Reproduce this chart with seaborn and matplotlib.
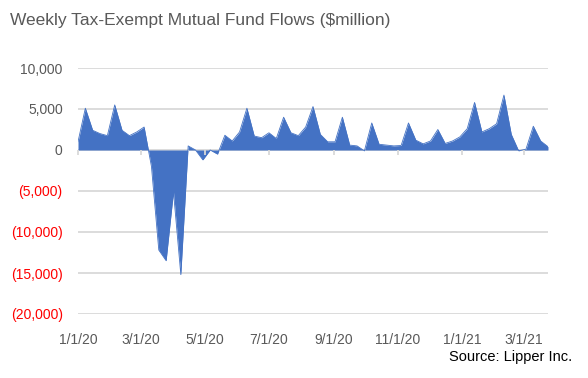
import numpy as np
import pandas as pd
import matplotlib
matplotlib.use("Agg")
import matplotlib.pyplot as plt
import seaborn as sns

# ---- data (weekly flows, $ million) ----
start_date = "2020-01-01"
flows = [1000, 5100, 2400, 2000, 1750, 5500, 2400, 1750, 2200, 2800,
         -2000, -12200, -13500, -5100, -15200, 500, 0, -1200, 0, -500,
         1800, 1100, 2200, 5100, 1700, 1500, 2100, 1400, 4000, 2100,
         1750, 2800, 5300, 1900, 1000, 1000, 4000, 600, 500, -100,
         3300, 700, 600, 500, 550, 3300, 1200, 750, 1100, 2500,
         800, 1100, 1600, 2600, 5800, 2200, 2600, 3200, 6700, 1900,
         -100, 100, 2900, 1100, 400]
tick_dates = ["2020-01-01", "2020-03-01", "2020-05-01", "2020-07-01",
              "2020-09-01", "2020-11-01", "2021-01-01", "2021-03-01"]
tick_labels = ["1/1/20", "3/1/20", "5/1/20", "7/1/20",
               "9/1/20", "11/1/20", "1/1/21", "3/1/21"]
y_ticks = [-20000, -15000, -10000, -5000, 0, 5000, 10000]
y_labels = ["(20,000)", "(15,000)", "(10,000)", "(5,000)", "0", "5,000", "10,000"]
title = "Weekly Tax-Exempt Mutual Fund Flows ($million)"
source = "Source: Lipper Inc."

dates = pd.date_range(start_date, periods=len(flows), freq="7D")
df = pd.DataFrame({"date": dates, "flow": flows})

sns.set_theme(style="white")
plt.rcParams["font.family"] = ["Liberation Sans", "DejaVu Sans"]

blue = "#4472C4"
gray = "#595959"
grid = "#D9D9D9"

fig = plt.figure(figsize=(5.88, 3.78), dpi=100)
ax = fig.add_axes([78 / 588, 1 - 314 / 378, (548 - 78) / 588, (314 - 68) / 378])

ax.fill_between(df["date"], df["flow"], 0, color=blue, linewidth=0, zorder=3)
sns.lineplot(data=df, x="date", y="flow", ax=ax, color=blue, linewidth=0.6, zorder=4)

ax.set_xlim(dates[0], dates[-1])
ax.set_ylim(-20000, 10000)
ax.set_yticks(y_ticks)
ax.set_yticklabels(y_labels)
for lab, v in zip(ax.get_yticklabels(), y_ticks):
    lab.set_color("#FF0000" if v < 0 else gray)
ax.set_xticks(pd.to_datetime(tick_dates))
ax.set_xticklabels(tick_labels, color=gray)
ax.tick_params(axis="y", length=0, pad=11, labelsize=10)
ax.tick_params(axis="x", length=0, pad=14, labelsize=10)
ax.set_xlabel("")
ax.set_ylabel("")

for v in y_ticks:
    if v != 0:
        ax.axhline(v, color=grid, linewidth=1.3, zorder=1)
for s in ax.spines.values():
    s.set_visible(False)
ax.axhline(0, color=grid, linewidth=1.3, zorder=2)

# zero axis line with tick marks pointing down
sec = ax.secondary_xaxis(2 / 3)
sec.set_alignment("bottom")
sec.set_xticks(pd.to_datetime(tick_dates))
sec.set_xticklabels([])
sec.tick_params(axis="x", direction="out", length=3.5, color=grid, width=1.3)
for k in ["top", "bottom", "left", "right"]:
    sec.spines[k].set_visible(False)
sec.set_zorder(6)

fig.text(10 / 588, 1 - 20 / 378, title, fontsize=12.5, color=gray, va="center", ha="left")
fig.text(572 / 588, 1 - 357 / 378, source, fontsize=10.5, color="black", va="center", ha="right")

fig.savefig("out.png", dpi=100)
